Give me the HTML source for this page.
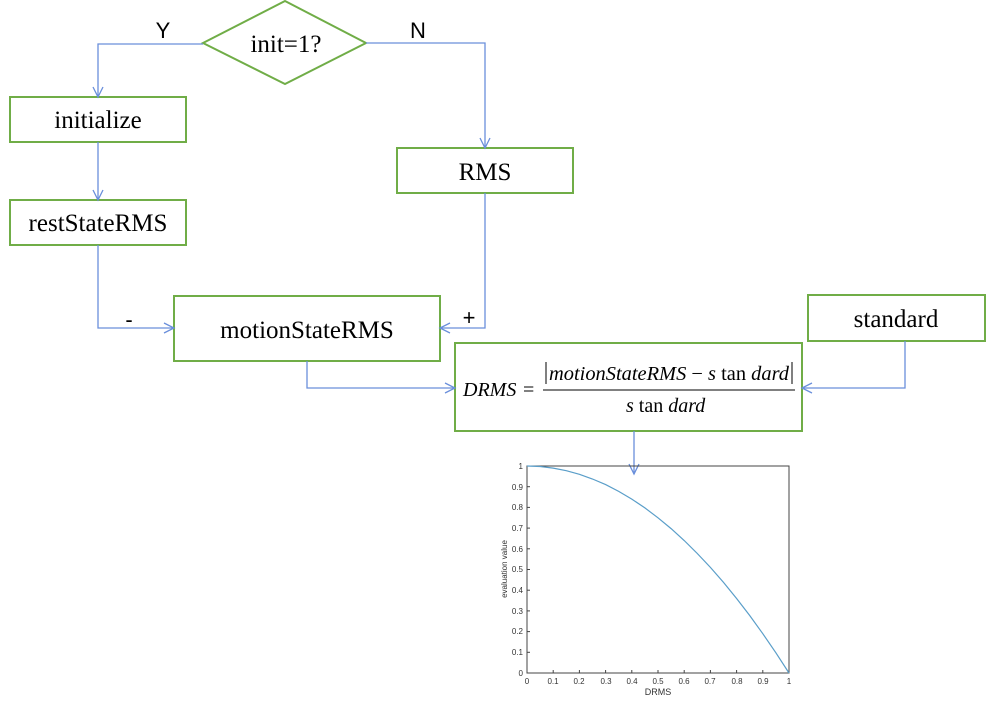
<!DOCTYPE html>
<html><head><meta charset="utf-8"><style>
body{margin:0;background:#fff;width:986px;height:701px;overflow:hidden}
text{font-family:"Liberation Serif",serif}
text.sans{font-family:"Liberation Sans",sans-serif}
</style></head><body>
<svg width="986" height="701" viewBox="0 0 986 701" xmlns="http://www.w3.org/2000/svg">
<g fill="#fff" stroke="#70ad47" stroke-width="2">
<polygon points="203,43 285,1 366,43 285,84"/>
<rect x="10" y="97" width="176" height="45"/>
<rect x="10" y="200" width="176" height="45"/>
<rect x="397" y="148" width="176" height="45"/>
<rect x="174" y="296" width="266" height="65"/>
<rect x="808" y="295" width="177" height="46"/>
<rect x="455" y="343" width="347" height="88"/>
</g>
<g fill="none" stroke="#6a8fdb" stroke-width="1.3">
<polyline points="203,44 98,44 98,97"/>
<polyline points="93,87 98,97 103,87"/>
<line x1="98" y1="142" x2="98" y2="200"/>
<polyline points="93,190 98,200 103,190"/>
<polyline points="366,43 485,43 485,148"/>
<polyline points="480,138 485,148 490,138"/>
<polyline points="98,245 98,328 174,328"/>
<polyline points="164,323 174,328 164,333"/>
<polyline points="485,193 485,328 440,328"/>
<polyline points="450,323 440,328 450,333"/>
<polyline points="307,361 307,388 455,388"/>
<polyline points="445,383 455,388 445,393"/>
<polyline points="905,341 905,388 802,388"/>
<polyline points="812,383 802,388 812,393"/>
<line x1="634" y1="431" x2="634" y2="474"/>
<polyline points="629,464 634,474 639,464"/>
</g>
<g font-size="25" fill="#000" text-anchor="middle">
<text x="286" y="52">init=1?</text>
<text x="98" y="128">initialize</text>
<text x="98" y="231">restStateRMS</text>
<text x="485" y="180">RMS</text>
<text x="307" y="338">motionStateRMS</text>
<text x="896" y="327">standard</text>
</g>
<g font-size="22" fill="#000" text-anchor="middle">
<text class="sans" x="163" y="38">Y</text>
<text class="sans" x="418" y="38">N</text>
<text class="sans" x="129" y="327">-</text>
<text class="sans" x="469" y="325">+</text>
</g>
<g font-size="20" fill="#000">
<text x="463" y="396" font-style="italic">DRMS</text>
<text x="523" y="396">=</text>
<text x="549" y="380" textLength="240" lengthAdjust="spacingAndGlyphs"><tspan font-style="italic">motionStateRMS</tspan> − <tspan font-style="italic">s</tspan> tan <tspan font-style="italic">dard</tspan></text>
<text x="626" y="412"><tspan font-style="italic">s</tspan> tan <tspan font-style="italic">dard</tspan></text>
</g>
<line x1="543" y1="390" x2="795" y2="390" stroke="#000" stroke-width="1"/>
<line x1="546" y1="362" x2="546" y2="384" stroke="#000" stroke-width="1"/>
<line x1="792" y1="362" x2="792" y2="384" stroke="#000" stroke-width="1"/>
<rect x="527" y="466" width="262" height="207" fill="none" stroke="#444" stroke-width="1"/>
<g stroke="#444" stroke-width="1">
<line x1="553.2" y1="673" x2="553.2" y2="670"/><line x1="579.4" y1="673" x2="579.4" y2="670"/><line x1="605.6" y1="673" x2="605.6" y2="670"/><line x1="631.8" y1="673" x2="631.8" y2="670"/><line x1="658" y1="673" x2="658" y2="670"/><line x1="684.2" y1="673" x2="684.2" y2="670"/><line x1="710.4" y1="673" x2="710.4" y2="670"/><line x1="736.6" y1="673" x2="736.6" y2="670"/><line x1="762.8" y1="673" x2="762.8" y2="670"/>
<line x1="527" y1="486.7" x2="530" y2="486.7"/><line x1="527" y1="507.4" x2="530" y2="507.4"/><line x1="527" y1="528.1" x2="530" y2="528.1"/><line x1="527" y1="548.8" x2="530" y2="548.8"/><line x1="527" y1="569.5" x2="530" y2="569.5"/><line x1="527" y1="590.2" x2="530" y2="590.2"/><line x1="527" y1="610.9" x2="530" y2="610.9"/><line x1="527" y1="631.6" x2="530" y2="631.6"/><line x1="527" y1="652.3" x2="530" y2="652.3"/>
</g>
<g font-size="8" fill="#333" text-anchor="middle">
<text class="sans" x="527" y="684">0</text><text class="sans" x="553" y="684">0.1</text><text class="sans" x="579" y="684">0.2</text><text class="sans" x="606" y="684">0.3</text><text class="sans" x="632" y="684">0.4</text><text class="sans" x="658" y="684">0.5</text><text class="sans" x="684" y="684">0.6</text><text class="sans" x="710" y="684">0.7</text><text class="sans" x="737" y="684">0.8</text><text class="sans" x="763" y="684">0.9</text><text class="sans" x="789" y="684">1</text>
<text class="sans" x="658" y="695" font-size="9">DRMS</text>
</g>
<g font-size="8" fill="#333" text-anchor="end">
<text class="sans" x="523" y="676">0</text><text class="sans" x="523" y="655">0.1</text><text class="sans" x="523" y="634">0.2</text><text class="sans" x="523" y="614">0.3</text><text class="sans" x="523" y="593">0.4</text><text class="sans" x="523" y="572">0.5</text><text class="sans" x="523" y="552">0.6</text><text class="sans" x="523" y="531">0.7</text><text class="sans" x="523" y="510">0.8</text><text class="sans" x="523" y="490">0.9</text><text class="sans" x="523" y="469">1</text>
<text class="sans" transform="translate(507,569) rotate(-90)" text-anchor="middle">evaluation value</text>
</g>
<polyline fill="none" stroke="#5a9ec9" stroke-width="1.2" points="527,466 540.1,466.5 553.2,468.1 566.3,470.7 579.4,474.3 592.5,479 605.6,484.6 618.7,491.4 631.8,499.1 644.9,507.9 658,517.8 671.1,528.6 684.2,540.5 697.3,553.5 710.4,567.4 723.5,582.4 736.6,598.5 749.7,615.5 762.8,633.7 775.9,652.8 789,673"/>
</svg>
</body></html>
